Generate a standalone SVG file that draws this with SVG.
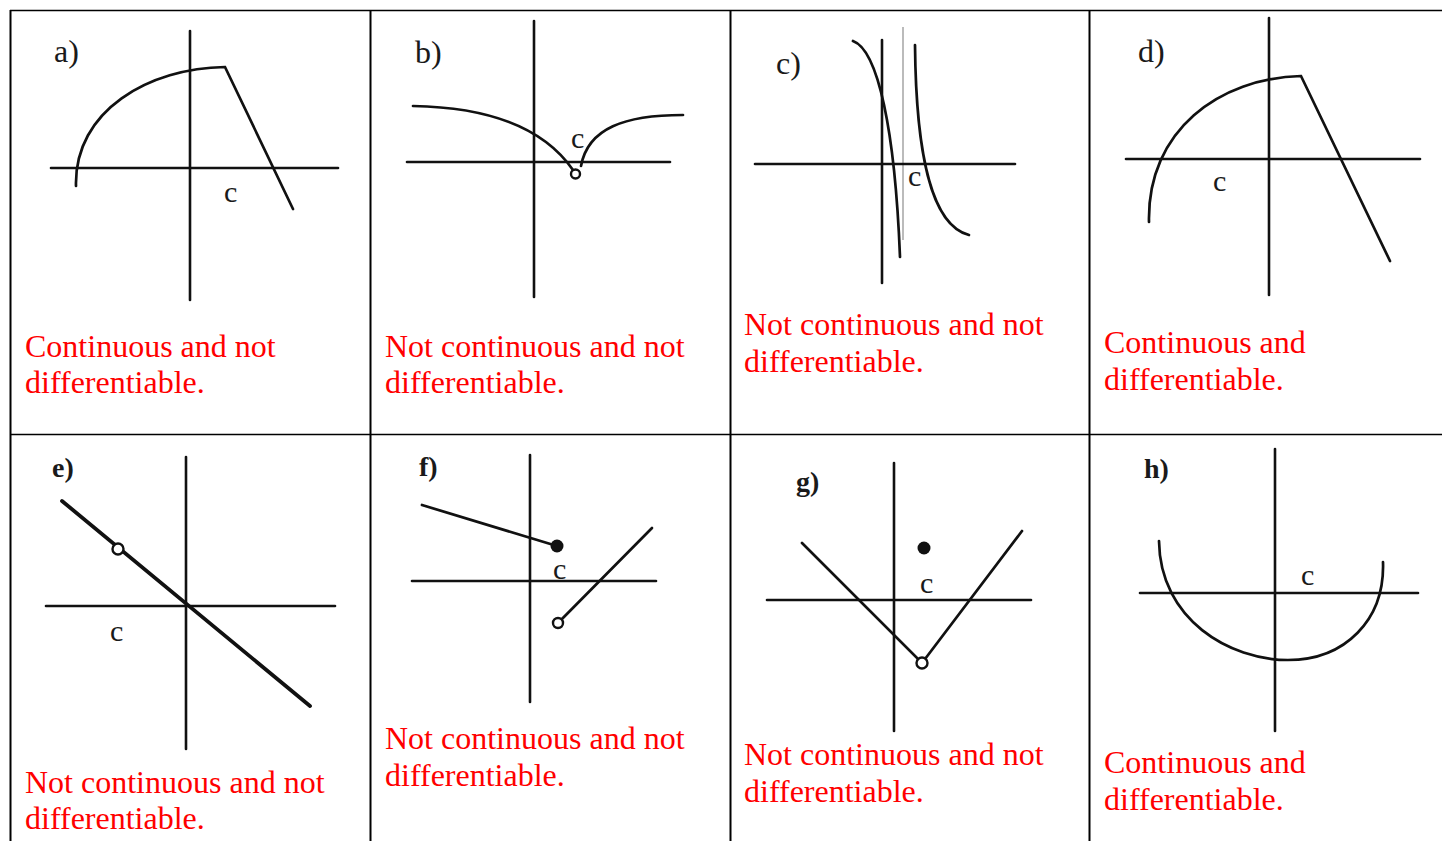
<svg xmlns="http://www.w3.org/2000/svg" width="1442" height="841" viewBox="0 0 1442 841">
<style>
.grid{stroke:#000;stroke-width:1.5;fill:none}
.ax{stroke:#111;stroke-width:2.6;fill:none;stroke-linecap:round}
.cv{stroke:#111;stroke-width:2.7;fill:none;stroke-linecap:round;stroke-linejoin:miter}
.thick{stroke:#111;stroke-width:3.8;fill:none;stroke-linecap:round}
.open{fill:#fff;stroke:#111;stroke-width:2.4}
.dot{fill:#111}
.lab{font-family:"Liberation Serif","Times New Roman",serif;font-size:32px;fill:#1a1a1a}
.labb{font-family:"Liberation Serif","Times New Roman",serif;font-size:28px;font-weight:bold;fill:#1a1a1a}
.c{font-family:"Liberation Serif","Times New Roman",serif;font-size:30px;fill:#1a1a1a}
.red{font-family:"Liberation Serif","Times New Roman",serif;font-size:32px;fill:#ff0000}
</style>
<rect x="0" y="0" width="1442" height="841" fill="#fff"/>
<g id="table" class="grid">
<line x1="10" y1="10.5" x2="1442" y2="10.5"/>
<line x1="10" y1="434.5" x2="1442" y2="434.5"/>
<line x1="10.5" y1="10" x2="10.5" y2="841" stroke-width="2"/>
<line x1="370.5" y1="10" x2="370.5" y2="841" stroke-width="2"/>
<line x1="730.5" y1="10" x2="730.5" y2="841" stroke-width="2"/>
<line x1="1089.5" y1="10" x2="1089.5" y2="841" stroke-width="2"/>
</g>
<g id="panel-a">
<text class="lab" x="54" y="62">a)</text>
<line class="ax" x1="190" y1="31" x2="190" y2="300"/>
<line class="ax" x1="51" y1="168" x2="338" y2="168"/>
<path class="cv" d="M76,186 C74,110 150,68 225,67 L293,209"/>
<text class="c" x="224" y="202">c</text>
<text class="red" x="25" y="357">Continuous and not</text>
<text class="red" x="25" y="393">differentiable.</text>
</g>
<g id="panel-b">
<text class="lab" x="415" y="63">b)</text>
<line class="ax" x1="534" y1="21" x2="534" y2="297"/>
<line class="ax" x1="407" y1="162" x2="670" y2="162"/>
<path class="cv" d="M413,106 Q530,108 573,170"/>
<path class="cv" d="M581,166 C588,128 625,115 683,115"/>
<circle class="open" cx="575.5" cy="174" r="4.5"/>
<text class="c" x="571" y="148">c</text>
<text class="red" x="385" y="357">Not continuous and not</text>
<text class="red" x="385" y="393">differentiable.</text>
</g>
<g id="panel-c">
<text class="lab" x="776" y="74">c)</text>
<line x1="903" y1="27" x2="903" y2="240" stroke="#bbb" stroke-width="2"/>
<line class="ax" x1="882" y1="40" x2="882" y2="283"/>
<line class="ax" x1="755" y1="164" x2="1015" y2="164"/>
<path class="cv" d="M853,41 C878,50 895,130 900,257"/>
<path class="cv" d="M915,45 C916,150 930,225 969,235"/>
<text class="c" x="908" y="186">c</text>
<text class="red" x="744" y="335">Not continuous and not</text>
<text class="red" x="744" y="372">differentiable.</text>
</g>
<g id="panel-d">
<text class="lab" x="1138" y="62">d)</text>
<line class="ax" x1="1269" y1="18" x2="1269" y2="295"/>
<line class="ax" x1="1126" y1="159" x2="1420" y2="159"/>
<path class="cv" d="M1149,222 C1147,130 1220,78 1301,76 L1390,261"/>
<text class="c" x="1213" y="191">c</text>
<text class="red" x="1104" y="353">Continuous and</text>
<text class="red" x="1104" y="390">differentiable.</text>
</g>
<g id="panel-e">
<text class="labb" x="52" y="477">e)</text>
<line class="ax" x1="186" y1="457" x2="186" y2="749"/>
<line class="ax" x1="46" y1="606" x2="335" y2="606"/>
<line class="thick" x1="62" y1="501" x2="310" y2="706"/>
<circle class="open" cx="118" cy="549" r="5.5"/>
<text class="c" x="110" y="641">c</text>
<text class="red" x="25" y="793">Not continuous and not</text>
<text class="red" x="25" y="829">differentiable.</text>
</g>
<g id="panel-f">
<text class="labb" x="419" y="476">f)</text>
<line class="ax" x1="530" y1="455" x2="530" y2="702"/>
<line class="ax" x1="412" y1="581" x2="656" y2="581"/>
<line class="cv" x1="422" y1="505" x2="557" y2="546"/>
<circle class="dot" cx="557" cy="546" r="6.5"/>
<line class="cv" x1="558" y1="623" x2="652" y2="528"/>
<circle class="open" cx="558" cy="623" r="5"/>
<text class="c" x="553" y="579">c</text>
<text class="red" x="385" y="749">Not continuous and not</text>
<text class="red" x="385" y="786">differentiable.</text>
</g>
<g id="panel-g">
<text class="labb" x="796" y="491">g)</text>
<line class="ax" x1="894" y1="463" x2="894" y2="731"/>
<line class="ax" x1="767" y1="600" x2="1031" y2="600"/>
<path class="cv" d="M802,543 L922,663 L1022,531"/>
<circle class="open" cx="922" cy="663" r="5.5"/>
<circle class="dot" cx="924" cy="548" r="6.5"/>
<text class="c" x="920" y="593">c</text>
<text class="red" x="744" y="765">Not continuous and not</text>
<text class="red" x="744" y="802">differentiable.</text>
</g>
<g id="panel-h">
<text class="labb" x="1144" y="478">h)</text>
<line class="ax" x1="1275" y1="449" x2="1275" y2="731"/>
<line class="ax" x1="1140" y1="593" x2="1418" y2="593"/>
<path class="cv" d="M1159,541 C1160,620 1230,660 1288,660 C1345,660 1385,620 1383,562"/>
<text class="c" x="1301" y="585">c</text>
<text class="red" x="1104" y="773">Continuous and</text>
<text class="red" x="1104" y="810">differentiable.</text>
</g>
</svg>
